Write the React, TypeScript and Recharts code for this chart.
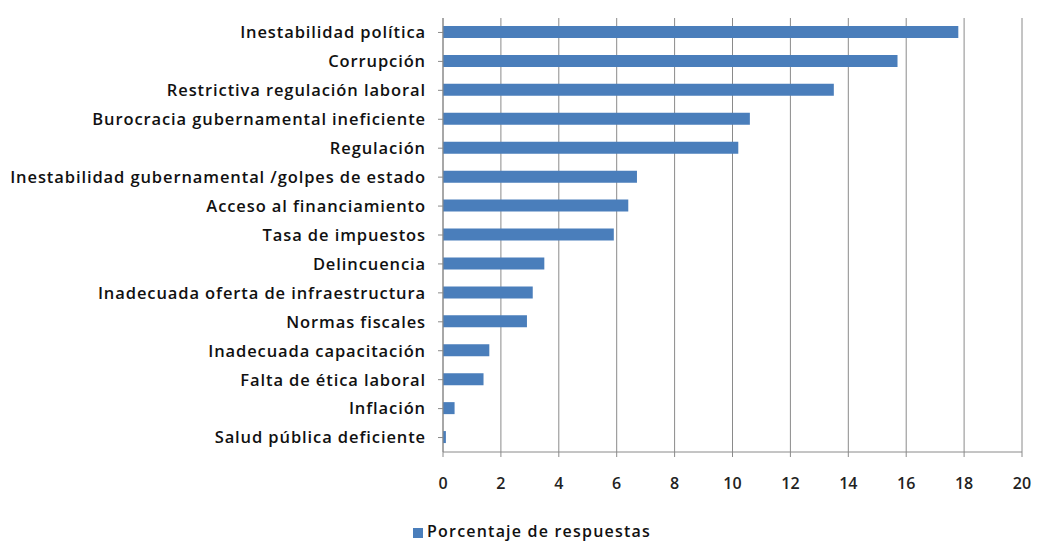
import React from 'react';
import { BarChart, Bar, XAxis, YAxis, CartesianGrid, Legend } from 'recharts';

const categories = [
  'Inestabilidad política',
  'Corrupción',
  'Restrictiva regulación laboral',
  'Burocracia gubernamental ineficiente',
  'Regulación ',
  'Inestabilidad gubernamental /golpes de estado',
  'Acceso al financiamiento',
  'Tasa de impuestos',
  'Delincuencia',
  'Inadecuada oferta de infraestructura',
  'Normas fiscales',
  'Inadecuada capacitación',
  'Falta de ética laboral',
  'Inflación',
  'Salud pública deficiente',
];

const porcentaje = [17.8, 15.7, 13.5, 10.6, 10.2, 6.7, 6.4, 5.9, 3.5, 3.1, 2.9, 1.6, 1.4, 0.4, 0.1];

const xTicks = [0, 2, 4, 6, 8, 10, 12, 14, 16, 18, 20];

const seriesName = 'Porcentaje de respuestas';

const data = categories.map((c, i) => ({ name: c, value: porcentaje[i] }));

const FONT = '"Open Sans", Lato, sans-serif';

const App: React.FC = () => {
  return (
    <div style={{ position: 'absolute', left: 0, top: 0, width: 1037, height: 542, background: '#fff' }}>
      <BarChart
        width={1037}
        height={542}
        data={data}
        layout="vertical"
        margin={{ top: 18, right: 15, bottom: 0, left: 0 }}
        barCategoryGap={0}
      >
        <CartesianGrid horizontal={false} vertical stroke="#8a8a8a" strokeWidth={1} />
        <XAxis
          type="number"
          domain={[0, 20]}
          ticks={xTicks}
          interval={0}
          stroke="#8a8a8a"
          tickSize={5}
          height={68}
          tick={{ fill: '#222', fontSize: 16, fontFamily: FONT, fontWeight: 600, dy: 19 }}
        />
        <YAxis
          type="category"
          dataKey="name"
          width={443}
          interval={0}
          stroke="#8a8a8a"
          tickSize={5}
          tick={{ fill: '#111', fontSize: 16.5, fontFamily: FONT, fontWeight: 600, dx: -10, letterSpacing: 0.9 }}
        />
        <Legend
          verticalAlign="bottom"
          align="center"
          iconType="square"
          iconSize={10}
          wrapperStyle={{ fontFamily: FONT, fontSize: 16, fontWeight: 600, color: '#111', paddingLeft: 26 }}
          formatter={(v) => <span style={{ color: '#111', letterSpacing: 1.2 }}>{v}</span>}
        />
        <Bar dataKey="value" name={seriesName} fill="#4a7ebb" barSize={12} isAnimationActive={false} />
      </BarChart>
    </div>
  );
};

export default App;
